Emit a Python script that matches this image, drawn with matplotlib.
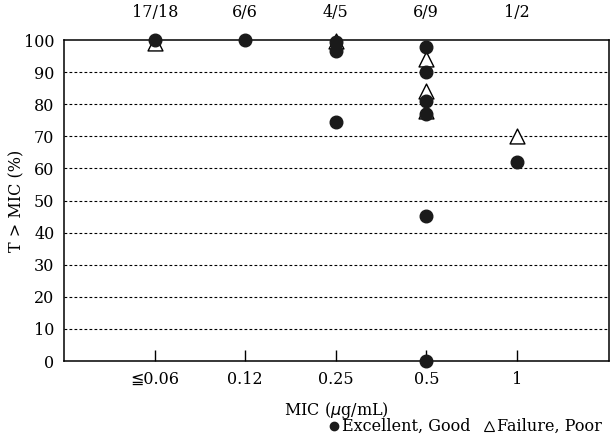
import matplotlib.pyplot as plt
from matplotlib.lines import Line2D

plt.rcParams['font.family'] = ['DejaVu Serif', 'DejaVu Sans']

# MIC categories along the x axis, with cure ratios printed above each
mic_labels = ['\u22660.06', '0.12', '0.25', '0.5', '1']
cure_ratios = ['17/18', '6/6', '4/5', '6/9', '1/2']

# Excellent / Good outcomes (category index, T>MIC %)
good_mic = [0, 1, 2, 2, 2, 3, 3, 3, 3, 3, 3, 4]
good_pct = [100, 100, 99.5, 96.5, 74.5, 98, 90, 81, 77, 45.2, 0, 62]

# Failure / Poor outcomes
poor_mic = [0, 2, 3, 3, 3, 4]
poor_pct = [99.2, 99.8, 94, 84, 78, 70]

y_ticks = list(range(0, 101, 10))


def main():
    fig = plt.figure(figsize=(6.11, 4.36), dpi=100)
    ax = fig.add_axes([0.105, 0.172, 0.892, 0.736])

    for y in y_ticks[1:-1]:
        ax.axhline(y, color='black', linestyle=(0, (2.5, 2)), linewidth=0.8, zorder=1)

    ax.scatter(poor_mic, poor_pct, marker='^', s=115, facecolors='white',
               edgecolors='black', linewidths=1.0, zorder=3, clip_on=False)
    ax.scatter(good_mic, good_pct, marker='o', s=82, color='#1a1a1a', zorder=4, clip_on=False)

    ax.set_xlim(-1, 5.02)
    ax.set_ylim(0, 100)
    ax.set_xticks(range(len(mic_labels)))
    ax.set_xticklabels(mic_labels, fontsize=11.5)
    ax.set_yticks(y_ticks)
    ax.set_yticklabels([str(v) for v in y_ticks], fontsize=11.5)
    ax.tick_params(axis='x', direction='in', length=8, width=1, pad=7)
    ax.tick_params(axis='y', length=0, pad=7)
    for sp in ax.spines.values():
        sp.set_linewidth(1.1)

    for i, r in enumerate(cure_ratios):
        ax.text(i, 106, r, ha='center', va='bottom', fontsize=11.5, clip_on=False)

    ax.set_xlabel('MIC ($\\mu$g/mL)', fontsize=11.5, labelpad=9)
    ax.set_ylabel('T > MIC (%)', fontsize=11.5)
    ax.yaxis.set_label_coords(-0.072, 0.5)

    handles = [
        Line2D([], [], marker='o', linestyle='none', color='#1a1a1a', markersize=6),
        Line2D([], [], marker='^', linestyle='none', markerfacecolor='white',
               markeredgecolor='black', markersize=7, markeredgewidth=0.8),
    ]
    fig.legend(handles, ['Excellent, Good', 'Failure, Poor'], loc='lower right',
               bbox_to_anchor=(1.0, -0.02), ncol=2, frameon=False, fontsize=11.5,
               handletextpad=0.0, columnspacing=0.6, handlelength=1.0, borderaxespad=0.2)

    fig.savefig('out.png', dpi=100)


if __name__ == "__main__":
    main()
